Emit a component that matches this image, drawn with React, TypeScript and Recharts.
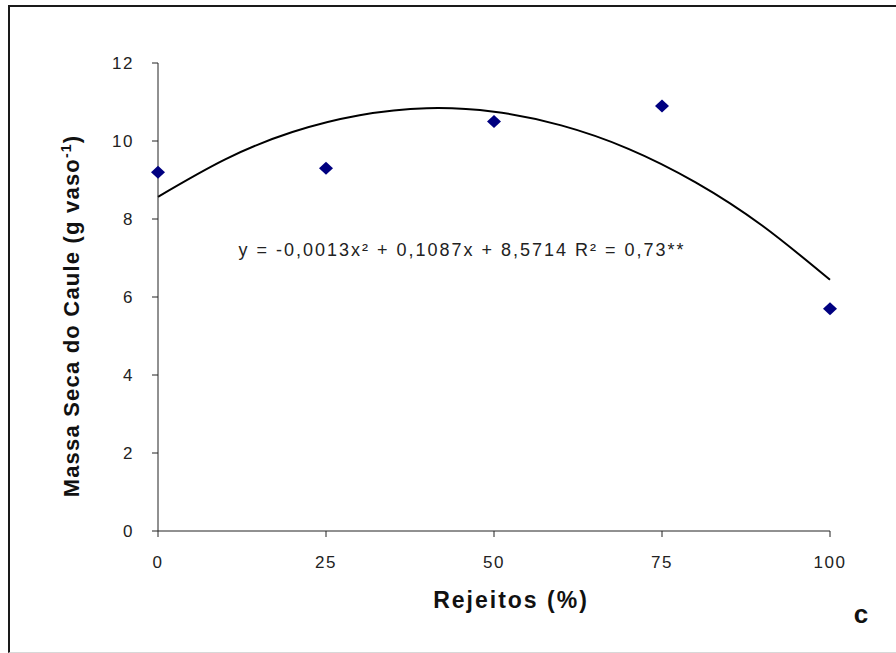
import React from 'react'
import { ComposedChart, Line, Scatter, XAxis, YAxis } from 'recharts'

// observed values
const rejeitos = [0, 25, 50, 75, 100]
const massaSeca = [9.2, 9.3, 10.5, 10.9, 5.7]

// fitted curve
const curveX = [0, 10, 20, 30, 40, 50, 60, 70, 80, 90, 100]
const curveY = [8.57, 9.53, 10.23, 10.66, 10.84, 10.75, 10.4, 9.8, 8.94, 7.82, 6.44]

const xTicks = [0, 25, 50, 75, 100]
const yTicks = [0, 2, 4, 6, 8, 10, 12]

const pointData = rejeitos.map((x, i) => ({ x, y: massaSeca[i] }))
const curveData = curveX.map((x, i) => ({ x, y: curveY[i] }))

const font = 'Arial, "Liberation Sans", sans-serif'

const Diamond = (props: any) => {
    const { cx, cy } = props
    if (cx == null || cy == null) return null
    return <path d={`M${cx - 7},${cy} L${cx},${cy - 6.5} L${cx + 7},${cy} L${cx},${cy + 6.5} Z`} fill="#000080" />
}

const tickStyle = { fontSize: 17, fill: '#222', fontFamily: font, letterSpacing: 1.5 }

export default function App() {
    return (
        <div style={{ position: 'absolute', left: 0, top: 0, width: 896, height: 653, background: '#fff', overflow: 'hidden' }}>
            {/* frame */}
            <div style={{ position: 'absolute', left: 8, top: 5, width: 900, height: 645, borderLeft: '2px solid #1a1a1a', borderTop: '2px solid #1a1a1a', borderBottom: '1px solid #d8d8d8' }} />
            <div style={{ position: 'absolute', left: 0, top: 0 }}>
                <ComposedChart width={896} height={653} margin={{ top: 63, right: 66, bottom: 92, left: 100 }}>
                    <XAxis
                        type="number"
                        dataKey="x"
                        domain={[0, 100]}
                        ticks={xTicks}
                        stroke="#222"
                        tickSize={6}
                        tickMargin={19}
                        height={30}
                        tick={tickStyle}
                    />
                    <YAxis
                        type="number"
                        dataKey="y"
                        domain={[0, 12]}
                        ticks={yTicks}
                        stroke="#222"
                        tickSize={6}
                        tickMargin={18}
                        width={58}
                        tick={tickStyle}
                    />
                    <Line data={curveData} dataKey="y" type="natural" stroke="#000" strokeWidth={2} dot={false} isAnimationActive={false} />
                    <Scatter data={pointData} dataKey="y" shape={Diamond} isAnimationActive={false} />
                </ComposedChart>
            </div>
            <svg width={896} height={653} style={{ position: 'absolute', left: 0, top: 0, pointerEvents: 'none' }}>
                <text x={462} y={256} textAnchor="middle" fontFamily={font} fontSize={18} fill="#222" letterSpacing={2}>
                    y = -0,0013x² + 0,1087x + 8,5714 R² = 0,73**
                </text>
                <text x={511} y={608} textAnchor="middle" fontFamily={font} fontSize={23} fontWeight="bold" fill="#111" letterSpacing={2}>
                    Rejeitos (%)
                </text>
                <text x={861} y={623} textAnchor="middle" fontFamily={font} fontSize={26} fontWeight="bold" fill="#111">
                    c
                </text>
                <text transform="translate(79,316) rotate(-90)" textAnchor="middle" fontFamily={font} fontSize={22} fontWeight="bold" fill="#111" letterSpacing={1.2}>
                    Massa Seca do Caule (g vaso<tspan dy={-8} fontSize={14}>-1</tspan><tspan dy={8}>)</tspan>
                </text>
            </svg>
        </div>
    )
}
